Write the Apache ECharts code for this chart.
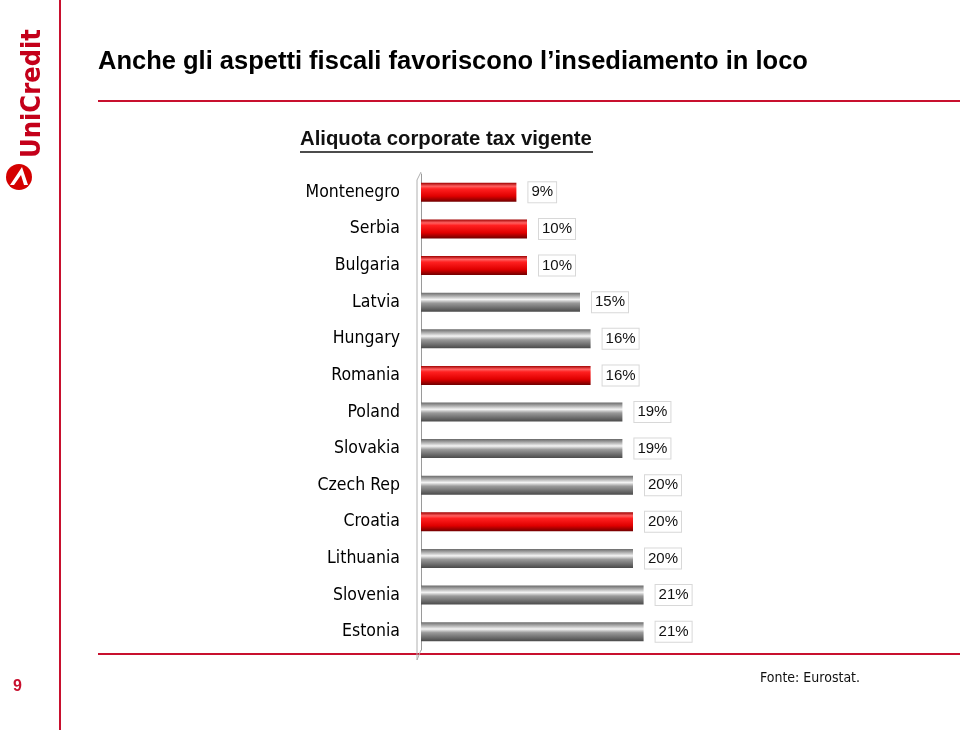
<!DOCTYPE html>
<html><head><meta charset="utf-8">
<script src="https://cdn.jsdelivr.net/npm/echarts@6/dist/echarts.min.js"></script>
<style>html,body{margin:0;padding:0;background:#fff}#c{width:960px;height:734px}</style>
</head><body><div id="c"></div>
<script>
const countries = ['Montenegro','Serbia','Bulgaria','Latvia','Hungary','Romania','Poland','Slovakia','Czech Rep','Croatia','Lithuania','Slovenia','Estonia'];
const taxRates = [9,10,10,15,16,16,19,19,20,20,20,21,21];
const highlighted = ['Montenegro','Serbia','Bulgaria','Romania','Croatia'];
const titleText = 'Anche gli aspetti fiscali favoriscono l\u2019insediamento in loco';
const subtitleText = 'Aliquota corporate tax vigente';
const sourceText = 'Fonte: Eurostat.';
const pageNumber = '9';

const redGrad = new echarts.graphic.LinearGradient(0,0,0,1,[
  {offset:0,color:'#a00000'},{offset:0.18,color:'#ff6060'},{offset:0.32,color:'#ff2020'},
  {offset:0.7,color:'#e00000'},{offset:1,color:'#700000'}]);
const grayGrad = new echarts.graphic.LinearGradient(0,0,0,1,[
  {offset:0,color:'#6a6a6a'},{offset:0.22,color:'#bdbdbd'},{offset:0.36,color:'#f4f4f4'},
  {offset:0.55,color:'#9a9a9a'},{offset:1,color:'#4a4a4a'}]);
const narrow = 'DejaVu Sans Condensed, Liberation Sans Narrow, sans-serif';

const chart = echarts.init(document.getElementById('c'));
chart.setOption({
  animation:false,
  backgroundColor:'#fff',
  grid:{left:421,top:174,width:265,height:476},
  xAxis:{type:'value',min:0,max:25,show:false},
  yAxis:{type:'category',data:countries,inverse:true,
    axisLine:{show:true,lineStyle:{color:'#9a9a9a',width:1}},
    axisTick:{show:false},
    axisLabel:{margin:21,color:'#000',fontSize:17.5,fontFamily:narrow,padding:[0,0,7,0]}},
  series:[{type:'bar',data:taxRates,barWidth:19,
    itemStyle:{color:p=>highlighted.includes(countries[p.dataIndex])?redGrad:grayGrad},
    label:{show:true,position:'right',distance:12,formatter:'{c}%',color:'#111',fontSize:15,
      fontFamily:'Liberation Sans, Arial, sans-serif',backgroundColor:'#fff',borderColor:'#d8d8d8',borderWidth:1,padding:[3,3,2,3]}}],
  graphic:[
    {type:'text',left:98,top:49,style:{text:titleText,fontSize:25.5,fontWeight:'bold',fontFamily:'Liberation Sans, Arial, sans-serif',fill:'#000'}},
    {type:'line',shape:{x1:98,y1:101,x2:960,y2:101},style:{stroke:'#c8102e',lineWidth:2}},
    {type:'line',shape:{x1:98,y1:654,x2:960,y2:654},style:{stroke:'#c8102e',lineWidth:2}},
    {type:'line',shape:{x1:60,y1:0,x2:60,y2:730},style:{stroke:'#c8102e',lineWidth:2}},
    {type:'line',shape:{x1:417,y1:180,x2:417,y2:660},style:{stroke:'#b0b0b0',lineWidth:1}},
    {type:'line',shape:{x1:417,y1:660,x2:421,y2:650},style:{stroke:'#b0b0b0',lineWidth:1}},
    {type:'line',shape:{x1:417,y1:180,x2:421,y2:172},style:{stroke:'#b0b0b0',lineWidth:1}},
    {type:'text',left:300,top:129,style:{text:subtitleText,fontSize:20.3,fontWeight:'bold',fontFamily:'Liberation Sans, Arial, sans-serif',fill:'#111'}},
    {type:'line',shape:{x1:300,y1:152,x2:593,y2:152},style:{stroke:'#111',lineWidth:1.5}},
    {type:'text',left:760,top:671,style:{text:sourceText,fontSize:14,fontFamily:narrow,fill:'#111'}},
    {type:'text',left:13,top:679,style:{text:pageNumber,fontSize:16,fontWeight:'bold',fontFamily:'Liberation Sans, Arial, sans-serif',fill:'#c8102e'}},
    {type:'text',x:33,y:158,rotation:Math.PI/2,style:{text:'UniCredit',fontSize:27,fontWeight:'bold',fontFamily:narrow,fill:'#c4001a',textVerticalAlign:'middle'}},
    {type:'circle',shape:{cx:19,cy:177,r:13},style:{fill:'#d40000'}},
    {type:'polygon',shape:{points:[[10,185],[22,167],[28,185],[24,185],[21,175],[14,185]]},style:{fill:'#fff'}}
  ]
});
</script></body></html>
